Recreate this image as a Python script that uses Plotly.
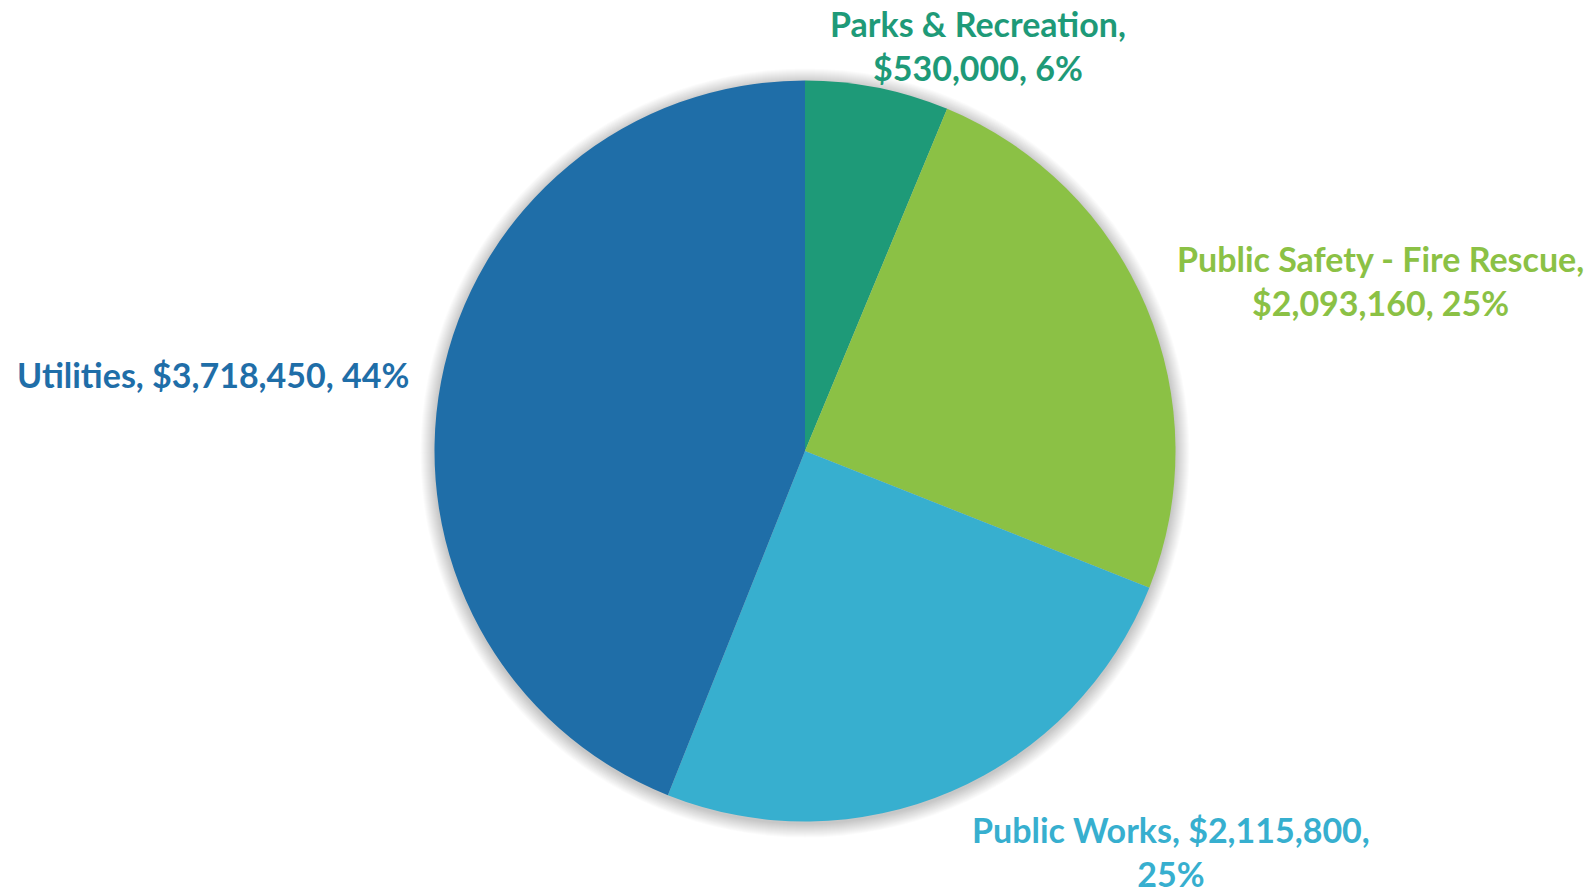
import plotly.graph_objects as go

# Capital budget by department
departments = ["Parks & Recreation", "Public Safety - Fire Rescue", "Public Works", "Utilities"]
amounts = [530000, 2093160, 2115800, 3718450]
colors = ["#1E9A78", "#8BC145", "#37AFCF", "#1F6EA8"]

# Label text lines (department, amount, percent) and anchor points in pixels
label_breaks = [1, 1, 2, 0]  # which comma starts a new line (0 = single line)
label_px = [(978, 45), (1380, 280), (1171, 851), (213, 375)]

W, H = 1596, 895
cx, cy, r = 805, 451, 370.5

total = sum(amounts)


def fmt_label(name, val, brk):
    pct = round(val / total * 100)
    parts = [name, f"${val:,.0f}", f"{pct}%"]
    if brk == 0:
        return ", ".join(parts)
    return ", ".join(parts[:brk]) + ",<br>" + ", ".join(parts[brk:])


fig = go.Figure()
fig.add_trace(go.Pie(
    labels=departments,
    values=amounts,
    sort=False,
    direction="clockwise",
    rotation=0,
    marker=dict(colors=colors, line=dict(width=0)),
    textinfo="none",
    hoverinfo="label+value+percent",
    showlegend=False,
    domain=dict(x=[(cx - r) / W, (cx + r) / W],
                y=[(H - cy - r) / H, (H - cy + r) / H]),
))

# soft drop shadow behind the pie
shapes = []
for i in range(14):
    rr = r + 1 + i
    oy = 2
    shapes.append(dict(
        type="circle", xref="paper", yref="paper", layer="below",
        x0=(cx - rr) / W, x1=(cx + rr) / W,
        y0=(H - cy - oy - rr) / H, y1=(H - cy - oy + rr) / H,
        fillcolor="rgba(0,0,0,0.016)", line=dict(width=0),
    ))

annotations = []
for name, val, brk, (px, py), col in zip(departments, amounts, label_breaks, label_px, colors):
    annotations.append(dict(
        x=px / W, y=1 - py / H, xref="paper", yref="paper",
        text=fmt_label(name, val, brk), showarrow=False,
        xanchor="center", yanchor="middle", align="center",
        font=dict(family="Lato", size=34, color=col, weight=700),
    ))

fig.update_layout(
    width=W, height=H,
    margin=dict(l=0, r=0, t=0, b=0),
    paper_bgcolor="white", plot_bgcolor="white",
    shapes=shapes, annotations=annotations,
)

fig.write_html("out.html")
